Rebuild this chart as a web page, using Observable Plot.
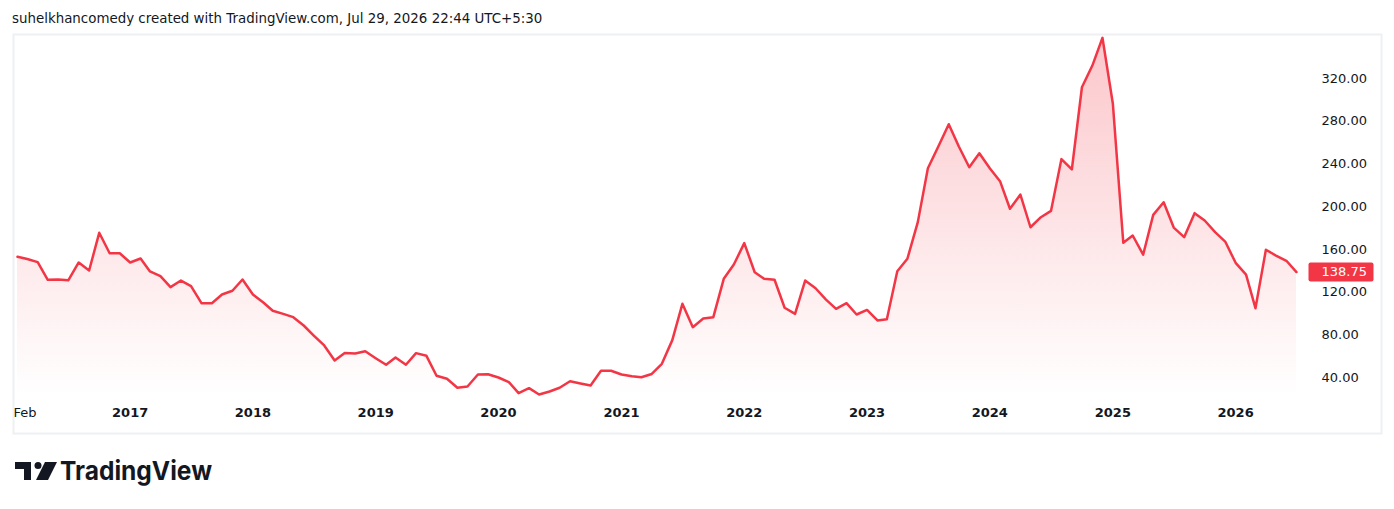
<!DOCTYPE html>
<html>
<head>
<meta charset="utf-8">
<script src="https://cdn.jsdelivr.net/npm/d3@7"></script>
<script src="https://cdn.jsdelivr.net/npm/@observablehq/plot@0.6"></script>
<style>
  html, body { margin: 0; padding: 0; background: #ffffff; }
  body { position: relative; width: 1394px; height: 509px; overflow: hidden; font-family: "DejaVu Sans", sans-serif; color: #131722; }
  #header { position: absolute; left: 12px; top: 10px; font-size: 13.4px; line-height: 18px; white-space: nowrap; }
  #chart { position: absolute; left: 0; top: 33px; }
  #logo { position: absolute; left: 0; top: 450px; }
</style>
</head>
<body>
<div id="header">suhelkhancomedy created with TradingView.com, Jul 29, 2026 22:44 UTC+5:30</div>
<div id="chart"></div>
<svg id="logo" width="260" height="45" viewBox="0 0 260 45">
  <path d="M15 12 H31 V30 H24 V19 H15 Z" fill="#131722"/>
  <circle cx="38" cy="15.5" r="3.5" fill="#131722"/>
  <path d="M45 12 H57 L48 30 H36 Z" fill="#131722"/>
  <text x="60" y="30" textLength="152" lengthAdjust="spacingAndGlyphs" font-family="Inter, 'DejaVu Sans', sans-serif" font-weight="700" font-size="26" fill="#131722">TradingView</text>
</svg>
<script>
// ---- data (monthly close, Feb 2016 .. Jul 2026) ----
const firstMonth = "2016-02-01";
const closes2016 = [153, 151, 148, 131.5, 131.7, 131, 147.7, 140.2, 175.5, 156.4, 156.4];
const closes2017 = [147.7, 151.4, 139.3, 134.9, 124.6, 130.8, 125.5, 109.6, 109.6, 117.7, 121.2, 131.8];
const closes2018 = [117.7, 110.2, 102.5, 99.6, 96.5, 88.7, 79.3, 70, 55.9, 63, 62.5, 64.6];
const closes2019 = [58.1, 51.9, 58.7, 51.9, 62.8, 60.3, 41.6, 38.8, 30.4, 31.6, 42.8, 43];
const closes2020 = [40, 35.6, 25.3, 30, 24.1, 26.9, 30.4, 36.5, 34.4, 32.5, 46.3, 46.3];
const closes2021 = [42.8, 41.2, 40.2, 43.3, 52.8, 75, 109, 87.1, 95.2, 96.5, 132.4, 145.8];
const closes2022 = [165.8, 138.6, 132.4, 131.5, 105.3, 99.6, 130.8, 123.6, 113, 104.3, 109.6, 99];
const closes2023 = [103.3, 93.4, 94.6, 139.5, 151.2, 185.5, 236, 256.3, 277.2, 256.3, 236.9, 250];
const closes2024 = [236, 223.5, 198, 211.3, 180.7, 190.1, 196, 244.5, 234.8, 311.8, 332.1, 358.1];
const closes2025 = [296.3, 166.1, 173, 155, 192.3, 204.1, 180.4, 171.4, 193.9, 187, 176.1, 167.3];
const closes2026 = [147.4, 136.4, 104.9, 159.6, 154.2, 149.3, 138.75];

const yTicks = [40, 80, 120, 160, 200, 240, 280, 320];
const xTickDates = ["2016-02-01", "2017-01-01", "2018-01-01", "2019-01-01", "2020-01-01", "2021-01-01", "2022-01-01", "2023-01-01", "2024-01-01", "2025-01-01", "2026-01-01"];
const xTickLabels = ["Feb", "2017", "2018", "2019", "2020", "2021", "2022", "2023", "2024", "2025", "2026"];
const paneBottomValue = 22; // price at the bottom edge of the price pane

// ---- build table ----
const closes = [].concat(closes2016, closes2017, closes2018, closes2019, closes2020, closes2021, closes2022, closes2023, closes2024, closes2025, closes2026);
const start = new Date(firstMonth);
const series = closes.map((v, i) => ({ date: d3.utcMonth.offset(start, i), close: v }));
const last = series[series.length - 1];
const xTicks = xTickDates.map((d, i) => ({ date: new Date(d), label: xTickLabels[i], first: i === 0 }));

const red = "#f23645";
const ns = "http://www.w3.org/2000/svg";
const labelDx = -60;

function gradientDefs() {
  const defs = document.createElementNS(ns, "defs");
  const lg = document.createElementNS(ns, "linearGradient");
  lg.setAttribute("id", "areaGrad");
  lg.setAttribute("x1", "0"); lg.setAttribute("y1", "0");
  lg.setAttribute("x2", "0"); lg.setAttribute("y2", "1");
  [[0, 0.28], [1, 0.0]].forEach(([o, a]) => {
    const s = document.createElementNS(ns, "stop");
    s.setAttribute("offset", o);
    s.setAttribute("stop-color", red);
    s.setAttribute("stop-opacity", a);
    lg.appendChild(s);
  });
  defs.appendChild(lg);
  return defs;
}

const W = 1394, H = 401;

const chart = Plot.plot({
  width: W,
  height: H,
  marginTop: 1,
  marginBottom: 1,
  marginLeft: 13,
  marginRight: 13,
  style: { fontFamily: "'DejaVu Sans', sans-serif", fontSize: "13px", color: "#131722", background: "#ffffff", overflow: "visible" },
  x: { type: "utc", domain: [series[0].date, last.date], range: [17, 1296], axis: null },
  y: { type: "linear", domain: [40, 320], range: [344, 45], axis: null },
  marks: [
    gradientDefs,
    Plot.frame({ stroke: "#eef0f3", strokeWidth: 2 }),
    Plot.areaY(series, { x: "date", y1: () => paneBottomValue, y2: "close", fill: "url(#areaGrad)" }),
    Plot.lineY(series, { x: "date", y: "close", stroke: red, strokeWidth: 2.5, strokeLinejoin: "round" }),
    // y tick labels (right price scale)
    Plot.text(yTicks, { y: d => d, text: d => d.toFixed(2), frameAnchor: "right", textAnchor: "start", dx: labelDx, fill: "#131722", fontSize: 13 }),
    // last price label
    Plot.text([last], {
      y: "close", text: d => d.close.toFixed(2), frameAnchor: "right", textAnchor: "start", dx: labelDx, fill: "#ffffff", fontSize: 13,
      render(index, scales, values, dims, context, next) {
        const g = next(index, scales, values, dims, context);
        const yy = scales.y(last.close);
        const r = document.createElementNS(ns, "rect");
        // the group is already shifted by dx; compensate so the box spans the price scale
        r.setAttribute("x", dims.width - dims.marginRight - 73 - labelDx);
        r.setAttribute("y", yy - 9.5);
        r.setAttribute("width", 65);
        r.setAttribute("height", 19);
        r.setAttribute("rx", 2);
        r.setAttribute("fill", red);
        g.insertBefore(r, g.firstChild);
        return g;
      }
    }),
    // x tick labels
    Plot.text(xTicks.filter(d => !d.first), { x: "date", text: "label", frameAnchor: "bottom", dy: -17, fontWeight: "bold", fill: "#131722", fontSize: 13 }),
    Plot.text(xTicks.filter(d => d.first), { x: "date", text: "label", frameAnchor: "bottom", dy: -17, dx: -4, textAnchor: "start", fill: "#131722", fontSize: 13 })
  ]
});
document.getElementById("chart").appendChild(chart);
</script>
</body>
</html>
